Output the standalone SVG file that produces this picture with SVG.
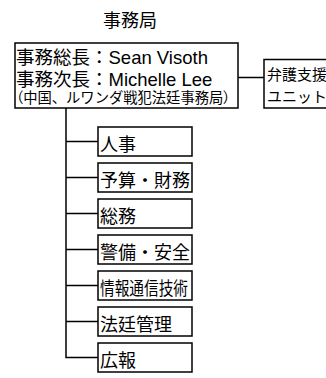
<svg xmlns="http://www.w3.org/2000/svg" width="326" height="378" viewBox="0 0 326 378">
<style>
.box{fill:#fff;stroke:#000;stroke-width:1.5}
.ln{stroke:#000;stroke-width:1.5;fill:none}
text{font-family:"Liberation Sans","Noto Sans CJK JP",sans-serif;fill:#000}
.c{font-size:18px}
.p{font-feature-settings:"palt"}
</style>
<rect width="326" height="378" fill="#fff"/>
<g id="title"><text x="130" y="27" font-size="18" text-anchor="middle">事務局</text></g>
<g id="connectors">
<path class="ln" d="M238,77.5H264"/>
<path class="ln" d="M66,108V357.5H98"/>
<path class="ln" d="M66,141.5H98M66,177.5H98M66,213.5H98M66,249.5H98M66,285.5H98M66,321.5H98"/>
</g>
<g id="main"><rect class="box" x="15" y="43" width="223" height="65"/>
<text x="16" y="64" font-size="18.5">事務総長：Sean Visoth</text>
<text x="16" y="85.5" font-size="18.5">事務次長：Michelle Lee</text>
<text x="16" y="103" font-size="14.3"><tspan class="p">（</tspan>中国、ルワンダ戦犯法廷事務局<tspan class="p">）</tspan></text></g>
<g id="bengo"><rect class="box" x="264" y="59.5" width="70" height="48.5"/>
<text x="267" y="80" font-size="15">弁護支援</text><text x="267" y="102" font-size="15">ユニット</text></g>
<g id="n1"><rect class="box" x="98" y="127" width="94" height="29"/><text class="c" x="100" y="150.5">人事</text></g>
<g id="n2"><rect class="box" x="98" y="163" width="94" height="29"/><text class="c" x="100" y="186.5">予算・財務</text></g>
<g id="n3"><rect class="box" x="98" y="199" width="94" height="29"/><text class="c" x="100" y="222.5">総務</text></g>
<g id="n4"><rect class="box" x="98" y="235" width="94" height="29"/><text class="c" x="100" y="258.5">警備・安全</text></g>
<g id="n5"><rect class="box" x="98" y="271" width="94" height="29"/><text class="c" x="100" y="294.5" textLength="88" lengthAdjust="spacingAndGlyphs">情報通信技術</text></g>
<g id="n6"><rect class="box" x="98" y="307" width="94" height="29"/><text class="c" x="100" y="330.5">法廷管理</text></g>
<g id="n7"><rect class="box" x="98" y="343" width="94" height="29"/><text class="c" x="100" y="366.5">広報</text></g>
</svg>
